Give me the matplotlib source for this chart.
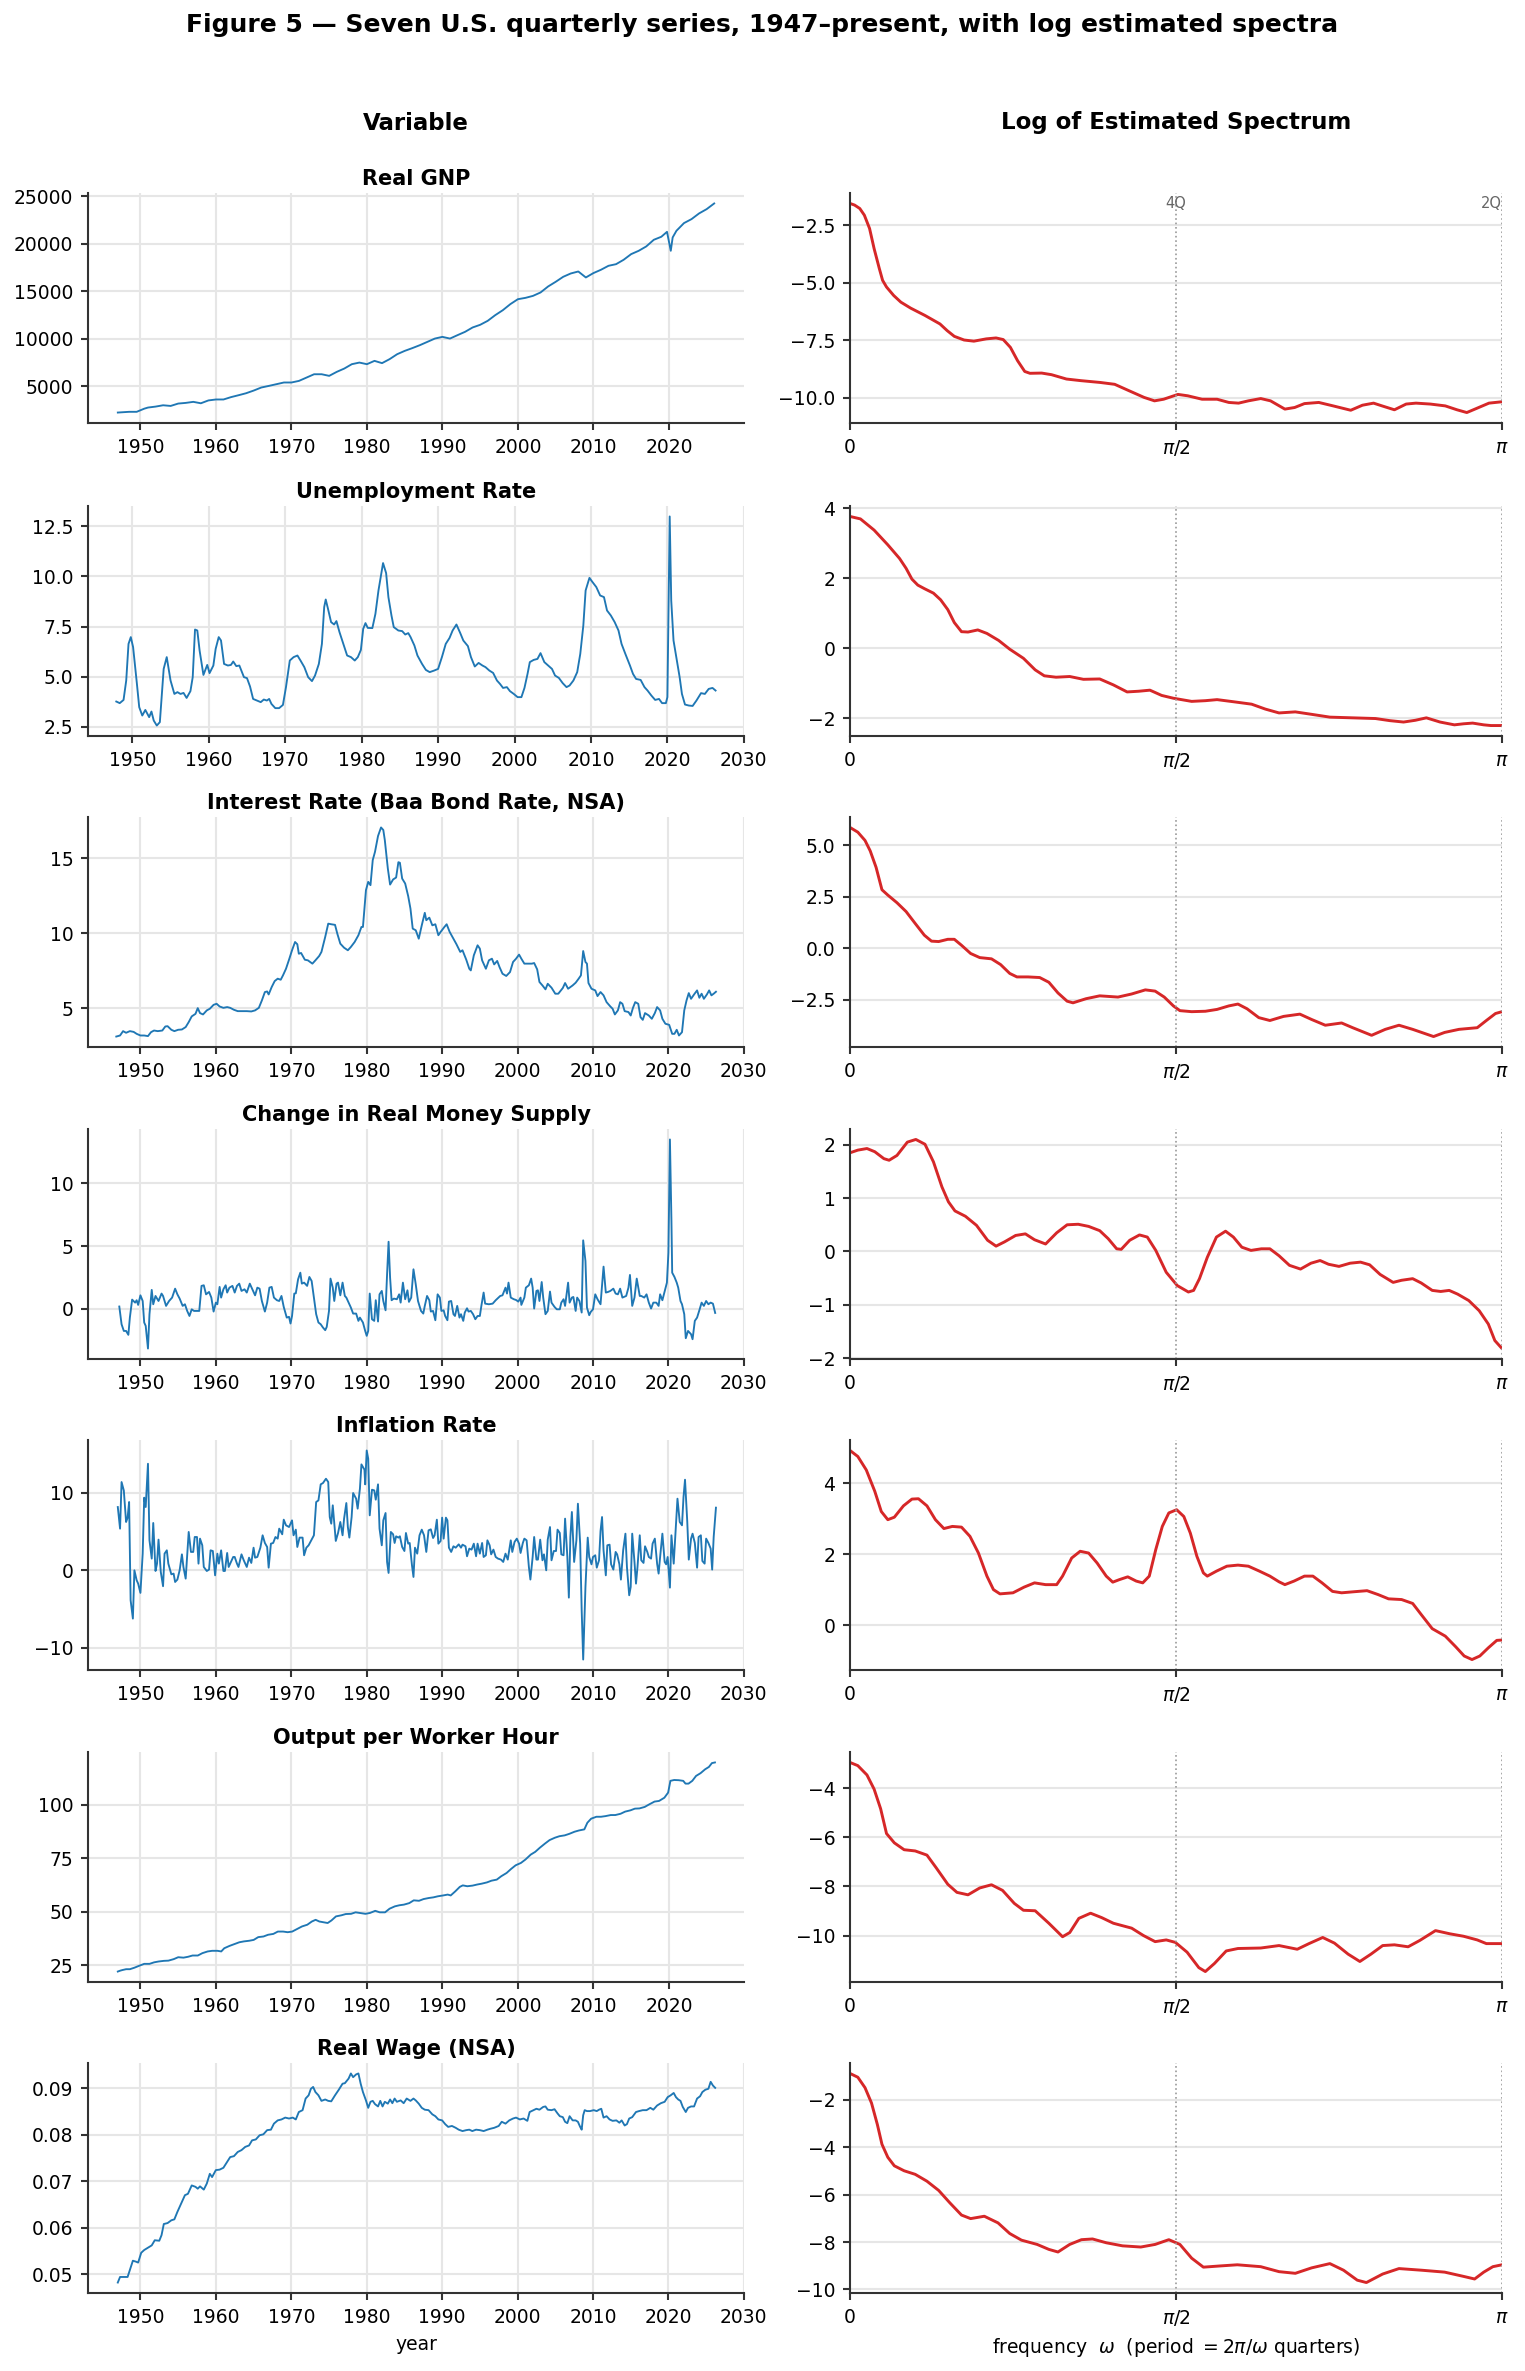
import numpy as np
import matplotlib
matplotlib.use("Agg")
import matplotlib.pyplot as plt
from matplotlib.ticker import MaxNLocator

# ---------------- DATA ----------------
titles = ["Real GNP", "Unemployment Rate", "Interest Rate (Baa Bond Rate, NSA)",
          "Change in Real Money Supply", "Inflation Rate", "Output per Worker Hour",
          "Real Wage (NSA)"]

gnp_year = [1947.0, 1948.5, 1949.5, 1950.5, 1951, 1952, 1953, 1954, 1955, 1956, 1957, 1958, 1959,
            1960, 1961, 1962, 1963, 1964, 1965, 1966, 1967, 1968, 1969, 1970, 1971, 1972, 1973,
            1974, 1975, 1976, 1977, 1978, 1979, 1980, 1981, 1982, 1983, 1984, 1985, 1986, 1987,
            1988, 1989, 1990, 1991, 1992, 1993, 1994, 1995, 1996, 1997, 1998, 1999, 2000, 2001,
            2002, 2003, 2004, 2005, 2006, 2007, 2008, 2009, 2010, 2011, 2012, 2013, 2014, 2015,
            2016, 2017, 2018, 2019, 2019.75, 2020.25, 2020.5, 2021, 2022, 2023, 2024, 2025, 2026.0]
gnp_val = [2223, 2300, 2300, 2630, 2750, 2850, 2990, 2920, 3170, 3240, 3350, 3200, 3500,
           3600, 3600, 3850, 4050, 4260, 4540, 4860, 5030, 5210, 5390, 5390, 5560, 5910, 6260,
           6260, 6090, 6510, 6860, 7320, 7490, 7320, 7670, 7430, 7850, 8370, 8720, 9010, 9320,
           9670, 10020, 10200, 10020, 10380, 10730, 11190, 11470, 11890, 12490, 13010, 13650, 14170, 14310,
           14520, 14880, 15510, 16000, 16530, 16880, 17090, 16460, 16920, 17270, 17690, 17860, 18320, 18920,
           19270, 19730, 20430, 20750, 21270, 19270, 20680, 21380, 22190, 22610, 23210, 23660, 24260]

unemp_year = [1947.9, 1948.35, 1948.85, 1949.2, 1949.5, 1949.8, 1950.1, 1950.6, 1950.9, 1951.3, 1951.7,
              1952.2, 1952.5, 1952.8, 1953.2, 1953.6, 1953.9, 1954.1, 1954.5, 1955.0, 1955.5, 1955.9,
              1956.3, 1956.7, 1957.1, 1957.6, 1957.9, 1958.2, 1958.5, 1958.8, 1959.3, 1959.8, 1960.1,
              1960.6, 1960.9, 1961.3, 1961.6, 1962.0, 1962.5, 1962.9, 1963.2, 1963.6, 1964.0, 1964.6,
              1965.0, 1965.4, 1965.8, 1966.3, 1966.8, 1967.2, 1967.6, 1967.9, 1968.2, 1968.7, 1969.2,
              1969.7, 1970.1, 1970.6, 1971.1, 1971.6, 1972.0, 1972.5, 1973.0, 1973.5, 1973.9, 1974.4,
              1974.8, 1975.1, 1975.3, 1975.6, 1976.0, 1976.4, 1976.7, 1977.1, 1977.6, 1978.1, 1978.6,
              1979.1, 1979.5, 1979.9, 1980.2, 1980.5, 1980.8, 1981.4, 1981.8, 1982.2, 1982.5, 1982.8,
              1983.2, 1983.5, 1983.9, 1984.2, 1984.8, 1985.3, 1985.7, 1986.1, 1986.4, 1986.9, 1987.3,
              1987.9, 1988.4, 1988.9, 1989.5, 1990.0, 1990.5, 1991.0, 1991.5, 1991.9, 1992.4, 1992.9,
              1993.3, 1993.9, 1994.3, 1994.8, 1995.3, 1995.8, 1996.2, 1996.7, 1997.2, 1997.7, 1998.1,
              1998.5, 1999.0, 1999.4, 1999.9, 2000.4, 2000.9, 2001.3, 2001.7, 2002.0, 2002.5, 2003.0,
              2003.4, 2003.9, 2004.4, 2004.9, 2005.3, 2005.8, 2006.3, 2006.8, 2007.2, 2007.7, 2008.2,
              2008.6, 2009.0, 2009.3, 2009.8, 2010.2, 2010.7, 2011.2, 2011.7, 2012.1, 2012.6, 2013.1,
              2013.6, 2014.0, 2014.5, 2015.1, 2015.5, 2015.9, 2016.5, 2017.0, 2017.4, 2017.9, 2018.4,
              2018.9, 2019.3, 2019.8, 2020.0, 2020.3, 2020.5, 2020.8, 2021.2, 2021.6, 2021.9, 2022.3,
              2022.8, 2023.3, 2023.8, 2024.4, 2024.9, 2025.4, 2025.9, 2026.3]
unemp_val = [3.75, 3.67, 3.83, 4.8, 6.63, 6.97, 6.47, 4.63, 3.47, 3.05, 3.33,
             2.97, 3.25, 2.8, 2.55, 2.72, 4.3, 5.38, 5.97, 4.8, 4.13, 4.22,
             4.13, 4.18, 3.93, 4.27, 4.97, 7.35, 7.3, 6.3, 5.08, 5.58, 5.17,
             5.55, 6.38, 6.97, 6.8, 5.63, 5.55, 5.58, 5.75, 5.52, 5.55, 4.97,
             4.92, 4.5, 3.88, 3.8, 3.72, 3.85, 3.8, 3.88, 3.63, 3.42, 3.42,
             3.58, 4.47, 5.8, 5.97, 6.05, 5.8, 5.47, 4.97, 4.77, 5.05, 5.63,
             6.63, 8.47, 8.85, 8.38, 7.72, 7.6, 7.77, 7.22, 6.63, 6.05, 5.97,
             5.8, 5.97, 6.33, 7.38, 7.67, 7.43, 7.42, 8.13, 9.3, 9.97, 10.67,
             10.17, 8.97, 8.05, 7.47, 7.3, 7.27, 7.1, 7.17, 6.97, 6.55, 6.05,
             5.63, 5.33, 5.22, 5.3, 5.38, 5.97, 6.63, 6.93, 7.3, 7.6, 7.17,
             6.8, 6.52, 5.97, 5.5, 5.68, 5.55, 5.47, 5.3, 5.18, 4.8, 4.63,
             4.43, 4.47, 4.27, 4.13, 3.97, 3.97, 4.43, 5.13, 5.72, 5.83, 5.88,
             6.17, 5.72, 5.55, 5.38, 5.05, 4.93, 4.67, 4.47, 4.55, 4.8, 5.22,
             6.13, 7.55, 9.3, 9.93, 9.72, 9.47, 9.05, 8.97, 8.3, 8.05, 7.72,
             7.3, 6.63, 6.13, 5.55, 5.13, 4.88, 4.83, 4.47, 4.3, 4.05, 3.83,
             3.88, 3.67, 3.67, 3.97, 13.0, 8.8, 6.8, 5.88, 4.97, 4.13, 3.6,
             3.55, 3.53, 3.8, 4.17, 4.13, 4.38, 4.43, 4.3]

rate_year = [1946.8, 1947.3, 1947.7, 1948.1, 1948.6, 1949.1, 1949.5, 1950.0, 1950.5, 1951.0, 1951.4,
             1951.8, 1952.3, 1952.9, 1953.3, 1953.6, 1954.1, 1954.5, 1955.0, 1955.5, 1956.0, 1956.4,
             1956.8, 1957.3, 1957.6, 1957.9, 1958.3, 1958.8, 1959.2, 1959.7, 1960.1, 1960.5, 1961.0,
             1961.5, 1961.9, 1962.4, 1962.9, 1963.4, 1964.1, 1964.7, 1965.2, 1965.7, 1966.1, 1966.5,
             1966.8, 1967.0, 1967.4, 1967.8, 1968.2, 1968.6, 1968.9, 1969.3, 1969.7, 1970.1, 1970.5,
             1970.8, 1971.0, 1971.3, 1971.8, 1972.2, 1972.8, 1973.2, 1973.7, 1974.0, 1974.5, 1974.9,
             1975.3, 1975.8, 1976.1, 1976.5, 1977.0, 1977.5, 1977.9, 1978.4, 1978.9, 1979.3, 1979.5,
             1979.9, 1980.2, 1980.5, 1980.8, 1981.1, 1981.5, 1981.9, 1982.2, 1982.4, 1982.8, 1983.1,
             1983.5, 1983.9, 1984.2, 1984.4, 1984.7, 1985.1, 1985.5, 1985.8, 1986.1, 1986.5, 1986.9,
             1987.3, 1987.7, 1987.9, 1988.3, 1988.7, 1989.1, 1989.5, 1989.8, 1990.3, 1990.6, 1991.0,
             1991.5, 1991.9, 1992.4, 1992.7, 1993.2, 1993.6, 1993.8, 1994.2, 1994.7, 1995.0, 1995.3,
             1995.8, 1996.2, 1996.6, 1996.9, 1997.3, 1997.6, 1998.0, 1998.5, 1999.0, 1999.4, 1999.8,
             2000.2, 2000.5, 2000.9, 2001.5, 2001.9, 2002.2, 2002.6, 2002.9, 2003.3, 2003.7, 2004.0,
             2004.5, 2005.0, 2005.4, 2006.0, 2006.3, 2006.7, 2007.3, 2007.7, 2008.1, 2008.4, 2008.7,
             2009.0, 2009.2, 2009.4, 2009.8, 2010.3, 2010.6, 2011.0, 2011.4, 2011.8, 2012.3, 2012.6,
             2012.9, 2013.3, 2013.6, 2013.9, 2014.2, 2014.7, 2015.0, 2015.3, 2015.6, 2016.0, 2016.3,
             2016.6, 2016.9, 2017.4, 2017.8, 2018.2, 2018.5, 2018.9, 2019.2, 2019.6, 2020.1, 2020.5,
             2020.8, 2021.1, 2021.4, 2021.8, 2022.1, 2022.4, 2022.7, 2023.0, 2023.4, 2023.8, 2024.1,
             2024.4, 2024.7, 2025.1, 2025.4, 2025.7, 2026.0, 2026.3]
rate_val = [3.13, 3.2, 3.49, 3.38, 3.49, 3.44, 3.31, 3.2, 3.2, 3.16, 3.42,
            3.53, 3.49, 3.53, 3.8, 3.82, 3.58, 3.49, 3.58, 3.6, 3.76, 4.09,
            4.47, 4.64, 5.02, 4.69, 4.6, 4.87, 4.98, 5.24, 5.31, 5.13, 5.04,
            5.09, 5.04, 4.91, 4.82, 4.82, 4.82, 4.8, 4.87, 5.04, 5.53, 6.09,
            6.13, 5.93, 6.42, 6.82, 6.98, 6.91, 7.2, 7.64, 8.24, 8.87, 9.42,
            9.27, 8.64, 8.69, 8.24, 8.2, 7.98, 8.2, 8.49, 8.76, 9.76, 10.64,
            10.6, 10.56, 9.98, 9.31, 9.04, 8.87, 9.09, 9.42, 9.87, 10.42, 10.42,
            12.87, 13.42, 13.2, 14.87, 15.42, 16.47, 17.04, 16.87, 16.2, 14.31, 13.24,
            13.58, 13.71, 14.73, 14.69, 13.64, 13.31, 12.47, 11.64, 10.31, 10.2, 9.64,
            10.53, 11.36, 10.87, 11.04, 10.53, 10.6, 9.87, 10.09, 10.42, 10.6, 10.09,
            9.64, 9.27, 8.76, 8.87, 8.24, 7.64, 7.53, 8.53, 9.2, 8.98, 8.2,
            7.64, 8.2, 8.31, 7.93, 8.16, 7.76, 7.31, 7.16, 7.42, 8.09, 8.31,
            8.58, 8.31, 7.98, 7.98, 7.98, 8.02, 7.6, 6.76, 6.53, 6.27, 6.64,
            6.38, 5.98, 5.98, 6.36, 6.69, 6.31, 6.53, 6.71, 6.98, 7.2, 8.82,
            8.09, 7.98, 6.69, 6.31, 6.2, 5.82, 6.09, 5.87, 5.42, 5.13, 4.98,
            4.6, 4.87, 5.42, 5.31, 4.82, 4.76, 4.53, 5.04, 5.42, 5.31, 4.42,
            4.24, 4.69, 4.53, 4.31, 4.69, 5.09, 4.87, 4.31, 3.98, 3.91, 3.31,
            3.31, 3.58, 3.2, 3.42, 4.87, 5.53, 6.02, 5.64, 5.93, 6.2, 5.71,
            5.98, 5.64, 5.93, 6.2, 5.87, 5.98, 6.11]

money_year = [1947.2, 1947.5, 1947.8, 1948.1, 1948.4, 1948.6, 1948.9, 1949.3, 1949.5, 1949.7, 1950.0,
              1950.3, 1950.5, 1950.7, 1951.0, 1951.2, 1951.5, 1951.7, 1952.0, 1952.4, 1952.8, 1953.0,
              1953.4, 1953.8, 1954.2, 1954.6, 1954.9, 1955.2, 1955.6, 1955.9, 1956.2, 1956.5, 1956.8,
              1957.1, 1957.5, 1957.8, 1958.1, 1958.4, 1958.7, 1959.1, 1959.4, 1959.7, 1960.0, 1960.2,
              1960.5, 1960.7, 1961.0, 1961.3, 1961.5, 1961.8, 1962.2, 1962.5, 1962.8, 1963.1, 1963.4,
              1963.8, 1964.1, 1964.5, 1964.8, 1965.2, 1965.5, 1965.8, 1966.1, 1966.5, 1966.8, 1967.1,
              1967.4, 1967.7, 1968.1, 1968.4, 1968.7, 1969.0, 1969.4, 1969.7, 1969.9, 1970.1, 1970.4,
              1970.6, 1970.9, 1971.2, 1971.4, 1971.7, 1972.1, 1972.4, 1972.7, 1973.0, 1973.3, 1973.6,
              1973.9, 1974.2, 1974.5, 1974.7, 1975.0, 1975.2, 1975.5, 1975.7, 1976.0, 1976.2, 1976.5,
              1976.8, 1977.1, 1977.3, 1977.6, 1977.9, 1978.2, 1978.6, 1978.9, 1979.1, 1979.5, 1979.8,
              1980.0, 1980.2, 1980.4, 1980.7, 1981.0, 1981.2, 1981.5, 1981.7, 1982.0, 1982.2, 1982.5,
              1982.7, 1982.9, 1983.1, 1983.3, 1983.6, 1984.0, 1984.3, 1984.5, 1984.8, 1985.1, 1985.4,
              1985.6, 1985.9, 1986.2, 1986.5, 1986.8, 1987.2, 1987.5, 1987.7, 1988.0, 1988.3, 1988.5,
              1988.8, 1989.1, 1989.4, 1989.7, 1989.9, 1990.2, 1990.4, 1990.7, 1990.9, 1991.2, 1991.5,
              1991.7, 1992.0, 1992.3, 1992.5, 1992.8, 1993.0, 1993.3, 1993.5, 1993.8, 1994.1, 1994.4,
              1994.7, 1995.0, 1995.2, 1995.5, 1995.7, 1996.2, 1996.7, 1997.1, 1997.7, 1998.0, 1998.4,
              1998.6, 1998.8, 1999.1, 1999.5, 1999.8, 2000.1, 2000.4, 2000.5, 2000.9, 2001.1, 2001.5,
              2001.8, 2002.0, 2002.2, 2002.5, 2002.7, 2002.9, 2003.2, 2003.4, 2003.7, 2004.0, 2004.3,
              2004.5, 2004.9, 2005.2, 2005.6, 2005.8, 2006.1, 2006.3, 2006.7, 2006.9, 2007.2, 2007.4,
              2007.7, 2007.9, 2008.2, 2008.5, 2008.7, 2009.0, 2009.2, 2009.5, 2009.7, 2010.0, 2010.3,
              2010.6, 2011.0, 2011.4, 2011.7, 2012.0, 2012.3, 2012.7, 2013.0, 2013.3, 2013.6, 2013.9,
              2014.4, 2014.7, 2014.9, 2015.2, 2015.5, 2015.8, 2016.2, 2016.4, 2016.8, 2017.1, 2017.4,
              2017.7, 2018.0, 2018.4, 2018.7, 2018.9, 2019.2, 2019.5, 2019.8, 2020.0, 2020.2, 2020.4,
              2020.5, 2020.8, 2021.1, 2021.3, 2021.6, 2021.8, 2022.1, 2022.3, 2022.6, 2023.0, 2023.2,
              2023.5, 2023.8, 2024.1, 2024.4, 2024.7, 2025.0, 2025.3, 2025.6, 2025.9, 2026.2]
money_val = [0.19, -1.22, -1.75, -1.75, -2.06, -0.69, 0.74, 0.5, 0.69, 0.32, 1.08,
             0.63, -1.08, -1.35, -3.15, -0.42, 1.51, 0.37, 1.03, 0.63, 1.22, 1.03,
             0.24, 0.63, 0.9, 1.61, 1.16, 0.82, 0.24, 0.37, -0.16, -0.56, -0.03,
             -0.16, -0.16, -0.16, 1.83, 1.88, 1.16, 1.35, 0.9, -0.21, 0.5, 0.37,
             1.75, 0.9, 1.56, 1.88, 1.3, 1.69, 1.83, 1.3, 1.83, 2.01, 1.43,
             1.56, 1.3, 2.01, 1.61, 1.08, 1.69, 1.61, 0.63, -0.21, 0.5, 1.69,
             1.75, 0.9, 0.69, 0.63, 1.03, 0.16, -0.69, -0.63, -1.16, -0.56, 1.22,
             1.24, 2.35, 2.88, 2.01, 2.09, 1.83, 2.54, 2.22, 0.9, -0.42, -1.08,
             -1.22, -1.48, -1.69, -1.43, -0.16, 2.41, 1.69, 0.63, 2.01, 2.09, 1.08,
             2.09, 1.03, 0.9, 0.5, 0.11, -0.37, -0.37, -0.95, -0.69, -1.08, -1.75,
             -2.14, -1.75, 1.22, -0.82, -0.95, 0.69, -1.0, 1.16, 1.43, 0.63, -0.11,
             2.75, 5.34, 2.49, 0.69, 0.82, 0.77, 1.16, 0.5, 2.09, 0.77, 1.48,
             0.56, 0.9, 3.15, 1.96, 0.63, -0.16, -0.37, 0.24, 1.03, 0.69, -0.21,
             -0.16, -0.9, 1.16, 0.9, -0.16, -0.11, -0.56, -0.9, 0.58, 0.63, -0.42,
             -0.56, 0.24, -0.69, -0.42, -0.95, -0.29, 0.05, -0.21, -0.16, -0.42, -0.82,
             -0.56, -0.56, 0.24, 1.3, 0.42, 0.37, 0.42, 0.69, 1.03, 1.08, 1.69,
             1.22, 2.09, 0.9, 0.77, 0.71, 0.58, 0.9, 0.32, 0.9, 1.69, 1.88,
             2.41, 1.69, 0.03, 1.43, 1.48, 0.63, 2.14, 0.9, -0.42, -0.16, 1.38,
             0.5, 0.16, -0.03, -0.03, 0.5, 0.77, 0.24, 2.09, 0.5, 0.9, 0.95,
             -0.16, 0.9, 0.63, -0.29, 5.45, 3.81, 0.11, -0.5, -0.24, -0.03, 1.16,
             0.77, 0.37, 3.36, 1.3, 1.35, 1.43, 1.61, 1.22, 1.16, 1.61, 0.9,
             1.03, 1.69, 2.7, 0.24, 0.9, 2.41, 1.03, 1.03, 0.9, 1.16, 0.5,
             0.03, 0.5, 0.5, 0.24, 1.16, 0.69, 1.38, 2.09, 4.47, 13.47, 6.98,
             2.88, 2.54, 2.09, 1.69, 0.63, 0.37, -0.42, -2.33, -1.75, -2.01, -2.41,
             -0.95, -0.69, -0.11, 0.5, 0.24, 0.63, 0.37, 0.5, 0.42, -0.32]

infl_year = [1947.0, 1947.3, 1947.5, 1947.8, 1948.1, 1948.3, 1948.5, 1948.7, 1949.0, 1949.2, 1949.5,
             1949.7, 1950.0, 1950.3, 1950.5, 1950.7, 1951.0, 1951.2, 1951.5, 1951.7, 1952.0, 1952.2,
             1952.4, 1952.7, 1953.0, 1953.2, 1953.5, 1953.7, 1954.1, 1954.4, 1954.6, 1954.9, 1955.2,
             1955.5, 1955.7, 1956.0, 1956.3, 1956.4, 1956.7, 1957.0, 1957.2, 1957.5, 1957.7, 1957.9,
             1958.2, 1958.4, 1958.8, 1959.1, 1959.3, 1959.6, 1959.9, 1960.2, 1960.4, 1960.7, 1961.0,
             1961.2, 1961.5, 1961.7, 1962.0, 1962.3, 1962.5, 1962.8, 1963.0, 1963.4, 1963.7, 1964.1,
             1964.4, 1964.7, 1965.0, 1965.2, 1965.5, 1965.9, 1966.2, 1966.5, 1966.8, 1967.0, 1967.3,
             1967.6, 1967.9, 1968.2, 1968.4, 1968.8, 1969.0, 1969.3, 1969.7, 1970.1, 1970.3, 1970.6,
             1970.8, 1971.1, 1971.5, 1971.7, 1972.0, 1972.3, 1972.6, 1973.0, 1973.3, 1973.6, 1973.9,
             1974.2, 1974.6, 1974.9, 1975.1, 1975.3, 1975.5, 1975.9, 1976.2, 1976.5, 1976.8, 1977.0,
             1977.3, 1977.5, 1977.7, 1978.0, 1978.2, 1978.6, 1978.8, 1979.1, 1979.3, 1979.7, 1979.8,
             1980.0, 1980.2, 1980.4, 1980.7, 1981.0, 1981.2, 1981.5, 1981.7, 1982.0, 1982.2, 1982.5,
             1982.7, 1982.9, 1983.2, 1983.5, 1983.7, 1983.9, 1984.2, 1984.4, 1984.7, 1985.0, 1985.2,
             1985.5, 1985.7, 1986.0, 1986.2, 1986.4, 1986.7, 1987.0, 1987.3, 1987.6, 1987.9, 1988.2,
             1988.5, 1988.8, 1989.0, 1989.3, 1989.5, 1989.8, 1990.0, 1990.2, 1990.5, 1990.7, 1990.9,
             1991.2, 1991.5, 1991.8, 1992.2, 1992.5, 1992.7, 1993.1, 1993.3, 1993.6, 1993.9, 1994.2,
             1994.5, 1994.7, 1995.0, 1995.3, 1995.5, 1995.8, 1996.0, 1996.3, 1996.5, 1996.8, 1997.1,
             1997.4, 1997.8, 1998.1, 1998.4, 1998.7, 1999.1, 1999.3, 1999.6, 1999.9, 2000.2, 2000.4,
             2000.7, 2000.9, 2001.2, 2001.5, 2001.7, 2002.0, 2002.2, 2002.5, 2002.7, 2003.0, 2003.3,
             2003.5, 2003.8, 2004.0, 2004.3, 2004.5, 2004.8, 2005.1, 2005.3, 2005.6, 2005.8, 2006.1,
             2006.3, 2006.6, 2006.8, 2007.0, 2007.2, 2007.5, 2007.8, 2008.0, 2008.3, 2008.5, 2008.7,
             2009.0, 2009.3, 2009.5, 2009.8, 2010.0, 2010.3, 2010.5, 2010.8, 2011.0, 2011.2, 2011.4,
             2011.7, 2011.9, 2012.2, 2012.4, 2012.7, 2013.0, 2013.2, 2013.5, 2013.7, 2014.0, 2014.3,
             2014.5, 2014.8, 2015.0, 2015.2, 2015.5, 2015.7, 2015.9, 2016.2, 2016.4, 2016.7, 2016.9,
             2017.2, 2017.4, 2017.7, 2017.9, 2018.2, 2018.5, 2018.7, 2018.9, 2019.2, 2019.5, 2019.7,
             2019.9, 2020.2, 2020.4, 2020.7, 2021.0, 2021.2, 2021.5, 2021.8, 2022.0, 2022.2, 2022.5,
             2022.7, 2023.0, 2023.2, 2023.5, 2023.8, 2024.0, 2024.3, 2024.5, 2024.8, 2025.0, 2025.3,
             2025.6, 2025.8, 2026.0, 2026.3]
infl_val = [8.17, 5.38, 11.4, 10.3, 6.24, 6.8, 8.82, -3.87, -6.24, 0.0, -1.29,
            -1.72, -2.92, 2.15, 9.38, 8.17, 13.76, 3.87, 1.51, 6.11, -0.09, 0.86,
            3.96, -0.22, -2.06, 2.15, 2.58, 0.86, -0.52, -0.43, -1.51, -1.2, 0.0,
            2.06, 0.43, -1.08, 3.53, 4.95, 2.37, 2.37, 4.3, 4.3, 0.86, 4.09,
            3.23, 0.43, -0.09, 0.09, 2.58, 2.49, -0.65, 2.15, 0.86, 2.58, -0.09,
            -0.09, 2.24, 0.43, 1.08, 1.72, 1.72, 0.86, 0.43, 2.06, 1.29, 0.43,
            1.63, 0.95, 2.92, 1.63, 1.72, 2.92, 4.52, 3.53, 3.01, 0.34, 3.44,
            3.53, 4.3, 4.09, 5.38, 4.65, 6.54, 5.81, 5.59, 6.45, 4.52, 5.25,
            3.01, 4.22, 4.22, 1.94, 2.92, 3.23, 3.79, 4.52, 8.82, 9.03, 11.1,
            11.27, 11.83, 11.4, 6.88, 6.02, 8.39, 3.79, 4.82, 6.24, 4.52, 6.67,
            8.69, 5.59, 4.22, 6.88, 9.98, 9.25, 7.96, 10.54, 13.68, 13.0, 11.1,
            15.48, 14.41, 7.1, 10.41, 10.32, 9.12, 11.1, 5.38, 3.23, 6.45, 7.4,
            1.08, -0.34, 4.95, 4.65, 3.53, 4.39, 4.22, 4.39, 3.01, 2.49, 4.82,
            3.44, 3.53, 0.65, -0.86, 2.92, 2.15, 4.52, 5.25, 4.52, 2.37, 5.16,
            5.29, 4.17, 4.52, 6.54, 3.44, 3.79, 6.8, 4.09, 6.8, 6.45, 2.92,
            2.37, 3.1, 2.92, 3.35, 2.92, 3.31, 3.1, 1.81, 2.8, 2.67, 3.44,
            1.81, 3.44, 2.15, 3.53, 1.72, 1.94, 3.87, 3.23, 2.06, 2.67, 1.72,
            1.51, 1.38, 1.08, 2.15, 1.38, 3.87, 2.37, 3.66, 4.09, 3.44, 2.24,
            3.53, 4.09, 3.87, 0.43, -1.2, 1.72, 4.3, 1.38, 1.38, 3.96, 1.29,
            2.06, 0.0, 3.96, 5.59, 1.29, 2.49, 2.49, 5.25, 4.82, 2.06, 1.94,
            6.67, 1.72, -3.53, 4.3, 7.53, 1.08, 3.87, 8.6, 3.44, -5.16, -11.53,
            -2.15, 4.22, 1.72, 0.77, 1.72, 1.94, 0.34, 1.29, 5.08, 6.88, 2.58,
            -0.65, 3.23, 3.31, 0.77, 0.09, 2.37, 2.06, 0.77, -1.2, 2.58, 4.73,
            0.43, -3.23, -2.15, 4.73, 1.08, -1.72, 0.43, 4.52, 1.29, 0.95, 3.1,
            2.37, 1.72, 1.51, 3.44, 4.09, 0.86, -0.43, 1.72, 4.73, 1.08, 0.77,
            1.72, -2.24, 4.52, 0.86, 5.81, 9.25, 6.24, 5.81, 9.46, 11.7, 6.24,
            1.38, 4.09, 4.73, 3.53, 0.34, 4.3, 4.52, 1.2, 0.86, 4.09, 3.53,
            2.8, 0.09, 4.3, 8.09]

prod_year = [1947.0, 1947.3, 1947.6, 1948.1, 1948.6, 1949.2, 1949.9, 1950.5, 1951.2, 1951.8, 1952.4,
             1953.1, 1953.7, 1954.4, 1955.0, 1955.7, 1956.3, 1956.9, 1957.6, 1958.2, 1958.9, 1959.5,
             1960.2, 1960.7, 1961.1, 1961.8, 1962.4, 1963.1, 1963.7, 1964.4, 1965.0, 1965.6, 1966.3,
             1966.9, 1967.6, 1968.2, 1968.9, 1969.5, 1970.1, 1970.8, 1971.4, 1972.1, 1972.7, 1973.2,
             1973.7, 1974.3, 1974.8, 1975.3, 1975.9, 1976.6, 1977.2, 1977.9, 1978.5, 1979.1, 1979.8,
             1980.4, 1981.1, 1981.7, 1982.4, 1983.0, 1983.7, 1984.3, 1984.9, 1985.6, 1986.2, 1986.9,
             1987.5, 1988.2, 1988.8, 1989.4, 1990.1, 1990.7, 1991.1, 1991.7, 1992.3, 1992.7, 1993.3,
             1994.0, 1994.6, 1995.2, 1995.9, 1996.5, 1997.2, 1997.8, 1998.5, 1999.1, 1999.7, 2000.4,
             2001.0, 2001.7, 2002.3, 2002.9, 2003.6, 2004.2, 2004.9, 2005.5, 2006.2, 2006.8, 2007.5,
             2008.1, 2008.8, 2009.2, 2009.7, 2010.4, 2011.0, 2011.6, 2012.3, 2012.9, 2013.6, 2014.2,
             2014.9, 2015.5, 2016.1, 2016.8, 2017.4, 2018.1, 2018.7, 2019.4, 2019.9, 2020.2, 2020.7,
             2021.3, 2021.9, 2022.2, 2022.6, 2023.1, 2023.6, 2024.2, 2024.8, 2025.3, 2025.7, 2026.1]
prod_val = [22.1, 22.5, 22.8, 23.2, 23.2, 23.9, 24.9, 25.7, 25.7, 26.4, 26.8,
            27.1, 27.2, 27.9, 28.8, 28.6, 29.0, 29.6, 29.6, 30.7, 31.5, 31.8,
            31.8, 31.5, 33.0, 34.1, 34.9, 35.8, 36.2, 36.5, 36.9, 38.2, 38.5,
            39.3, 39.7, 40.8, 40.8, 40.5, 40.8, 42.1, 43.2, 44.0, 45.5, 46.3,
            45.5, 45.1, 44.8, 46.0, 47.9, 48.4, 49.0, 49.1, 49.8, 49.5, 49.1,
            49.5, 50.5, 49.8, 49.8, 51.5, 52.6, 53.1, 53.4, 54.1, 55.4, 55.2,
            56.0, 56.5, 56.8, 57.3, 57.7, 58.1, 57.7, 59.6, 61.7, 62.4, 62.0,
            62.3, 62.8, 63.2, 63.8, 64.6, 65.1, 66.7, 68.2, 70.1, 71.8, 72.9,
            74.5, 76.8, 78.1, 80.0, 82.0, 83.6, 84.7, 85.4, 85.8, 86.5, 87.5,
            88.1, 88.6, 91.7, 93.6, 94.5, 94.5, 94.8, 95.3, 95.3, 95.9, 96.9,
            97.5, 98.3, 98.4, 99.1, 100.3, 101.6, 101.9, 103.4, 105.8, 111.3, 111.7,
            111.6, 111.3, 110.0, 110.0, 111.3, 113.6, 114.9, 116.7, 117.8, 119.6, 119.9]

wage_year = [1947.0, 1947.3, 1947.8, 1948.3, 1948.6, 1949.0, 1949.4, 1949.7, 1950.1, 1950.5, 1951.0,
             1951.5, 1951.9, 1952.5, 1952.8, 1953.1, 1953.6, 1954.1, 1954.5, 1954.9, 1955.4, 1955.9,
             1956.3, 1956.8, 1957.3, 1957.6, 1957.9, 1958.4, 1958.8, 1959.2, 1959.5, 1960.0, 1960.5,
             1961.0, 1961.5, 1961.9, 1962.4, 1962.9, 1963.4, 1963.9, 1964.4, 1964.8, 1965.3, 1965.8,
             1966.3, 1966.8, 1967.3, 1967.7, 1968.2, 1968.7, 1969.2, 1969.7, 1970.2, 1970.6, 1971.0,
             1971.5, 1971.9, 1972.3, 1972.6, 1972.9, 1973.2, 1973.6, 1974.0, 1974.5, 1974.9, 1975.3,
             1975.8, 1976.3, 1976.8, 1977.1, 1977.6, 1977.9, 1978.2, 1978.6, 1978.9, 1979.2, 1979.5,
             1979.9, 1980.2, 1980.5, 1980.8, 1981.1, 1981.5, 1981.8, 1982.1, 1982.4, 1982.8, 1983.1,
             1983.4, 1983.7, 1984.0, 1984.5, 1984.9, 1985.3, 1985.8, 1986.2, 1986.5, 1986.9, 1987.3,
             1987.7, 1988.2, 1988.7, 1989.1, 1989.5, 1990.0, 1990.4, 1990.8, 1991.3, 1991.8, 1992.2,
             1992.7, 1993.2, 1993.6, 1994.0, 1994.5, 1995.0, 1995.5, 1996.0, 1996.4, 1996.9, 1997.5,
             1997.9, 1998.4, 1998.9, 1999.4, 1999.8, 2000.3, 2000.8, 2001.3, 2001.6, 2002.1, 2002.5,
             2002.9, 2003.4, 2003.7, 2004.0, 2004.5, 2004.9, 2005.3, 2005.6, 2006.0, 2006.3, 2006.6,
             2006.9, 2007.3, 2007.7, 2008.0, 2008.3, 2008.5, 2008.7, 2008.9, 2009.2, 2009.6, 2010.1,
             2010.5, 2010.8, 2011.1, 2011.4, 2011.8, 2012.2, 2012.6, 2013.1, 2013.5, 2013.8, 2014.2,
             2014.5, 2014.8, 2015.2, 2015.7, 2016.1, 2016.6, 2017.1, 2017.6, 2018.0, 2018.5, 2019.0,
             2019.5, 2019.9, 2020.3, 2020.7, 2021.0, 2021.3, 2021.6, 2021.9, 2022.3, 2022.6, 2023.0,
             2023.4, 2023.8, 2024.2, 2024.5, 2024.9, 2025.3, 2025.6, 2025.9, 2026.2]
wage_val = [0.0482, 0.0494, 0.0494, 0.0494, 0.0509, 0.0529, 0.0527, 0.0525, 0.0546, 0.0552, 0.0557,
            0.0562, 0.0573, 0.0572, 0.0584, 0.0608, 0.0610, 0.0616, 0.0618, 0.0634, 0.0652, 0.0670,
            0.0673, 0.0691, 0.0688, 0.0684, 0.0689, 0.0682, 0.0695, 0.0716, 0.0709, 0.0724, 0.0725,
            0.0729, 0.0742, 0.0752, 0.0754, 0.0763, 0.0767, 0.0774, 0.0777, 0.0788, 0.0790, 0.0799,
            0.0801, 0.0810, 0.0811, 0.0824, 0.0831, 0.0833, 0.0837, 0.0835, 0.0837, 0.0833, 0.0849,
            0.0853, 0.0878, 0.0885, 0.0899, 0.0903, 0.0892, 0.0885, 0.0873, 0.0876, 0.0873, 0.0872,
            0.0885, 0.0897, 0.0910, 0.0911, 0.0921, 0.0932, 0.0924, 0.0930, 0.0932, 0.0910, 0.0892,
            0.0874, 0.0858, 0.0871, 0.0873, 0.0866, 0.0861, 0.0873, 0.0861, 0.0871, 0.0867, 0.0876,
            0.0868, 0.0878, 0.0871, 0.0874, 0.0868, 0.0878, 0.0873, 0.0878, 0.0874, 0.0867, 0.0858,
            0.0854, 0.0853, 0.0844, 0.0840, 0.0833, 0.0831, 0.0823, 0.0817, 0.0819, 0.0815, 0.0811,
            0.0808, 0.0810, 0.0811, 0.0808, 0.0811, 0.0810, 0.0808, 0.0811, 0.0813, 0.0815, 0.0819,
            0.0828, 0.0824, 0.0831, 0.0835, 0.0837, 0.0833, 0.0835, 0.0830, 0.0849, 0.0853, 0.0856,
            0.0854, 0.0860, 0.0861, 0.0854, 0.0853, 0.0855, 0.0846, 0.0840, 0.0838, 0.0828, 0.0825,
            0.0840, 0.0831, 0.0831, 0.0828, 0.0817, 0.0811, 0.0842, 0.0853, 0.0851, 0.0851, 0.0853,
            0.0851, 0.0854, 0.0856, 0.0837, 0.0840, 0.0833, 0.0830, 0.0831, 0.0826, 0.0831, 0.0820,
            0.0823, 0.0835, 0.0838, 0.0849, 0.0851, 0.0853, 0.0853, 0.0858, 0.0854, 0.0863, 0.0868,
            0.0871, 0.0881, 0.0885, 0.0890, 0.0881, 0.0876, 0.0873, 0.0860, 0.0849, 0.0858, 0.0861,
            0.0861, 0.0878, 0.0883, 0.0892, 0.0897, 0.0899, 0.0914, 0.0906, 0.0901]

# Log estimated spectra: frequency as a fraction of pi, log spectrum value
spec_gnp_f = [0, .007, .015, .022, .03, .037, .045, .05, .056, .067, .078, .093, .115, .138, .149, .16,
              .175, .19, .209, .224, .235, .246, .257, .268, .276, .294, .309, .332, .354, .384, .406,
              .428, .451, .467, .481, .503, .518, .54, .563, .581, .596, .611, .63, .645, .667, .682,
              .697, .719, .741, .768, .786, .803, .816, .835, .853, .868, .89, .913, .931, .946, .961,
              .98, 1.0]
spec_gnp_v = [-1.54, -1.61, -1.76, -2.05, -2.63, -3.51, -4.38, -4.89, -5.18, -5.55, -5.84, -6.1, -6.42,
              -6.79, -7.08, -7.33, -7.49, -7.54, -7.44, -7.4, -7.47, -7.81, -8.39, -8.86, -8.94, -8.93,
              -9.0, -9.19, -9.26, -9.34, -9.42, -9.7, -9.99, -10.14, -10.07, -9.86, -9.92, -10.07,
              -10.07, -10.21, -10.24, -10.14, -10.04, -10.14, -10.5, -10.43, -10.26, -10.21, -10.36,
              -10.55, -10.33, -10.24, -10.36, -10.53, -10.28, -10.24, -10.28, -10.36, -10.53, -10.65,
              -10.47, -10.24, -10.18]

spec_unemp_f = [0, .016, .037, .058, .076, .086, .095, .104, .114, .128, .139, .15, .16, .171, .181,
                .196, .21, .228, .245, .266, .284, .298, .316, .337, .358, .383, .404, .425, .443,
                .46, .478, .496, .524, .545, .563, .588, .616, .637, .658, .683, .708, .736, .771,
                .806, .828, .849, .867, .884, .905, .927, .941, .955, .972, .983, 1.0]
spec_unemp_v = [3.76, 3.69, 3.37, 2.95, 2.56, 2.28, 1.97, 1.8, 1.7, 1.57, 1.38, 1.1, 0.73, 0.47, 0.46,
                0.52, 0.42, 0.22, -0.03, -0.29, -0.62, -0.79, -0.83, -0.81, -0.89, -0.88, -1.05,
                -1.25, -1.23, -1.2, -1.35, -1.43, -1.52, -1.5, -1.47, -1.53, -1.6, -1.74, -1.85,
                -1.82, -1.89, -1.97, -1.99, -2.01, -2.07, -2.11, -2.06, -1.99, -2.11, -2.19, -2.16,
                -2.14, -2.19, -2.21, -2.21]

spec_rate_f = [0, .012, .023, .031, .04, .049, .058, .072, .086, .1, .114, .125, .136, .15, .16, .171,
               .185, .199, .217, .231, .245, .256, .273, .291, .305, .319, .333, .342, .362, .383,
               .411, .432, .453, .468, .482, .496, .506, .524, .545, .563, .581, .595, .609, .627,
               .644, .665, .69, .708, .729, .754, .771, .8, .821, .842, .863, .895, .912, .934, .962,
               .976, .99, 1.0]
spec_rate_v = [5.87, 5.64, 5.24, 4.73, 3.93, 2.84, 2.58, 2.21, 1.78, 1.2, 0.63, 0.34, 0.32, 0.43, 0.43,
               0.14, -0.26, -0.46, -0.52, -0.8, -1.23, -1.4, -1.4, -1.43, -1.66, -2.18, -2.58, -2.66,
               -2.46, -2.32, -2.38, -2.23, -2.03, -2.09, -2.38, -2.81, -3.04, -3.09, -3.07, -2.98,
               -2.81, -2.72, -2.95, -3.38, -3.52, -3.32, -3.21, -3.47, -3.75, -3.64, -3.87, -4.24,
               -3.95, -3.75, -3.95, -4.3, -4.1, -3.95, -3.87, -3.52, -3.18, -3.09]

spec_money_f = [0, .012, .026, .038, .052, .06, .072, .088, .101, .115, .128, .141, .151, .161, .177,
                .194, .211, .224, .237, .254, .269, .283, .3, .317, .333, .35, .366, .383, .396, .409,
                .416, .429, .444, .456, .469, .485, .502, .519, .527, .536, .548, .562, .576, .588,
                .601, .615, .631, .644, .658, .674, .691, .707, .721, .734, .75, .767, .783, .797,
                .813, .833, .846, .863, .876, .893, .906, .919, .932, .949, .965, .979, .989, 1.0]
spec_money_v = [1.85, 1.9, 1.93, 1.87, 1.74, 1.71, 1.8, 2.05, 2.1, 2.01, 1.68, 1.21, 0.93, 0.76, 0.66,
                0.49, 0.21, 0.1, 0.18, 0.3, 0.33, 0.22, 0.14, 0.35, 0.5, 0.51, 0.47, 0.39, 0.24, 0.05,
                0.04, 0.21, 0.31, 0.27, 0.02, -0.39, -0.64, -0.76, -0.73, -0.51, -0.11, 0.27, 0.38,
                0.27, 0.08, 0.02, 0.05, 0.05, -0.08, -0.26, -0.33, -0.22, -0.17, -0.24, -0.28, -0.22,
                -0.2, -0.25, -0.43, -0.58, -0.54, -0.51, -0.59, -0.73, -0.75, -0.73, -0.8, -0.92,
                -1.11, -1.36, -1.67, -1.82]

spec_infl_f = [0, .012, .025, .038, .048, .058, .068, .082, .095, .105, .118, .131, .144, .157, .171,
               .184, .197, .21, .22, .23, .25, .267, .283, .3, .317, .326, .34, .353, .366, .379, .393,
               .403, .413, .426, .439, .449, .459, .469, .479, .489, .501, .512, .522, .532, .542,
               .548, .562, .578, .595, .611, .628, .644, .658, .667, .681, .697, .71, .724, .74, .754,
               .773, .793, .81, .826, .846, .863, .876, .893, .913, .929, .942, .954, .966, .979, .992,
               1.0]
spec_infl_v = [4.93, 4.76, 4.38, 3.78, 3.21, 2.98, 3.05, 3.37, 3.56, 3.57, 3.37, 2.98, 2.73, 2.79, 2.77,
               2.51, 2.04, 1.39, 1.01, 0.89, 0.92, 1.08, 1.2, 1.15, 1.15, 1.39, 1.9, 2.09, 2.04, 1.76,
               1.39, 1.22, 1.29, 1.37, 1.25, 1.2, 1.39, 2.14, 2.79, 3.17, 3.26, 3.07, 2.6, 1.95, 1.48,
               1.39, 1.53, 1.67, 1.7, 1.67, 1.53, 1.39, 1.23, 1.15, 1.25, 1.39, 1.39, 1.2, 0.96, 0.92,
               0.95, 0.98, 0.87, 0.75, 0.73, 0.62, 0.31, -0.09, -0.3, -0.6, -0.86, -0.96, -0.86, -0.63,
               -0.42, -0.41]

spec_prod_f = [0, .012, .026, .037, .047, .056, .068, .083, .1, .118, .132, .15, .164, .181, .199, .217,
               .234, .252, .266, .284, .305, .326, .337, .351, .369, .386, .404, .432, .45, .468, .485,
               .499, .517, .535, .545, .559, .577, .595, .63, .658, .686, .704, .725, .743, .764, .782,
               .799, .817, .835, .856, .874, .898, .92, .941, .962, .976, 1.0]
spec_prod_v = [-2.94, -3.07, -3.45, -4.03, -4.83, -5.84, -6.22, -6.5, -6.55, -6.72, -7.23, -7.91, -8.24,
               -8.34, -8.06, -7.93, -8.16, -8.69, -8.97, -8.99, -9.5, -10.05, -9.88, -9.3, -9.09, -9.27,
               -9.5, -9.7, -10.0, -10.25, -10.18, -10.28, -10.68, -11.31, -11.47, -11.14, -10.63,
               -10.53, -10.51, -10.41, -10.56, -10.33, -10.08, -10.31, -10.76, -11.06, -10.76, -10.41,
               -10.38, -10.46, -10.2, -9.8, -9.93, -10.03, -10.18, -10.33, -10.33]

spec_wage_f = [0, .012, .023, .033, .042, .049, .058, .068, .083, .1, .118, .136, .153, .171, .185, .206,
               .227, .245, .263, .287, .305, .319, .337, .355, .372, .393, .418, .446, .468, .489, .506,
               .524, .542, .567, .594, .63, .658, .683, .708, .736, .757, .778, .792, .817, .842, .877,
               .912, .941, .958, .972, .986, 1.0]
spec_wage_v = [-0.88, -1.04, -1.48, -2.13, -3.04, -3.87, -4.42, -4.78, -4.99, -5.14, -5.43, -5.82, -6.34,
               -6.86, -7.01, -6.91, -7.19, -7.64, -7.92, -8.1, -8.31, -8.42, -8.1, -7.9, -7.87, -8.03,
               -8.16, -8.21, -8.1, -7.9, -8.1, -8.68, -9.06, -9.01, -8.96, -9.04, -9.25, -9.32, -9.09,
               -8.91, -9.19, -9.61, -9.71, -9.35, -9.12, -9.19, -9.27, -9.45, -9.56, -9.27, -9.04,
               -8.96]

series = [(gnp_year, gnp_val), (unemp_year, unemp_val), (rate_year, rate_val),
          (money_year, money_val), (infl_year, infl_val), (prod_year, prod_val),
          (wage_year, wage_val)]
spectra = [(spec_gnp_f, spec_gnp_v), (spec_unemp_f, spec_unemp_v), (spec_rate_f, spec_rate_v),
           (spec_money_f, spec_money_v), (spec_infl_f, spec_infl_v), (spec_prod_f, spec_prod_v),
           (spec_wage_f, spec_wage_v)]
xlims = [(1943.05, 2029.95), (1944.2, 2030.02), (1943.05, 2030.02), (1943.05, 2030.02),
         (1943.05, 2030.02), (1943.05, 2029.95), (1943.05, 2030.02)]
year_ticks = [1950, 1960, 1970, 1980, 1990, 2000, 2010, 2020, 2030]

# ---------------- FIGURE ----------------
W, H = 1525, 2371
DPI = 150
fig = plt.figure(figsize=(W / DPI, H / DPI), dpi=DPI)
plt.rcParams['font.family'] = ['DejaVu Sans']

BLUE = '#1f77b4'
RED = '#d62728'
SPINE = '#333333'
GRID = '#e6e6e6'

tops = [193, 506, 817, 1129, 1440, 1752, 2063]
ah = 230
lx0, lx1 = 88, 744
rx0, rx1 = 850, 1502


def style(ax):
    for s in ['top', 'right']:
        ax.spines[s].set_visible(False)
    for s in ['left', 'bottom']:
        ax.spines[s].set_color(SPINE)
        ax.spines[s].set_linewidth(1.0)
    ax.tick_params(axis='both', labelsize=9, colors=SPINE, labelcolor='black',
                   length=3.5, width=1.0)
    ax.yaxis.set_major_locator(MaxNLocator(nbins=5, steps=[1, 2, 2.5, 5, 10]))
    ax.set_axisbelow(True)


for i in range(7):
    t = tops[i]
    b = 1 - (t + ah) / H
    h = ah / H
    axl = fig.add_axes([lx0 / W, b, (lx1 - lx0) / W, h])
    axr = fig.add_axes([rx0 / W, b, (rx1 - rx0) / W, h])

    yrs, vals = series[i]
    axl.plot(yrs, vals, color=BLUE, lw=0.9)
    axl.set_xticks(year_ticks)
    axl.set_xlim(*xlims[i])
    axl.grid(True, color=GRID, lw=1.0)
    style(axl)
    axl.set_title(titles[i], fontsize=10, fontweight='bold', pad=4)

    f, v = spectra[i]
    w = np.array(f) * np.pi
    axr.plot(w, v, color=RED, lw=1.4, solid_joinstyle='round', solid_capstyle='round')
    axr.set_xticks([0, np.pi / 2, np.pi])
    axr.set_xticklabels(['0', r'$\pi/2$', r'$\pi$'])
    axr.set_xlim(0, np.pi)
    axr.grid(True, axis='y', color=GRID, lw=1.0)
    axr.axvline(np.pi / 2, color='#999999', lw=0.8, ls=':')
    axr.axvline(np.pi, color='#999999', lw=0.8, ls=':')
    style(axr)
    if i == 0:
        axr.text(np.pi / 2, 0.985, '4Q', transform=axr.get_xaxis_transform(),
                 ha='center', va='top', fontsize=7, color='#666666')
        axr.text(np.pi, 0.985, '2Q', transform=axr.get_xaxis_transform(),
                 ha='right', va='top', fontsize=7, color='#666666')
    if i == 6:
        axl.set_xlabel('year', fontsize=9)
        axr.set_xlabel(r'frequency  $\omega$  (period $= 2\pi/\omega$ quarters)', fontsize=9)
    axl.ticklabel_format(axis='y', style='plain', useOffset=False)

fig.text(0.5, 1 - 25 / H, 'Figure 5 — Seven U.S. quarterly series, 1947–present, with log estimated spectra',
         ha='center', va='center', fontsize=12, fontweight='bold')
fig.text((lx0 + lx1) / 2 / W, 1 - 123 / H, 'Variable', ha='center', va='center',
         fontsize=11, fontweight='bold')
fig.text((rx0 + rx1) / 2 / W, 1 - 123 / H, 'Log of Estimated Spectrum', ha='center', va='center',
         fontsize=11, fontweight='bold')

fig.savefig('out.png', dpi=DPI)
